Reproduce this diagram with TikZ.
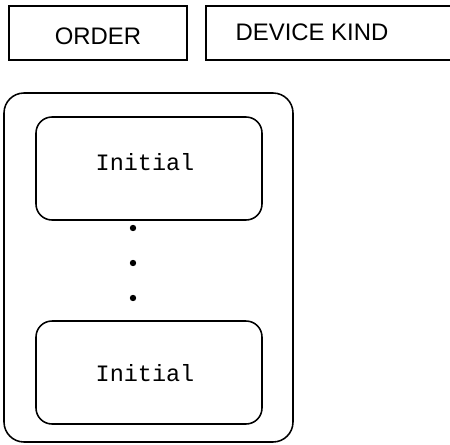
\documentclass[tikz,border=0pt]{standalone}
\usepackage{fontspec}
\setmainfont{Liberation Sans}
\setmonofont{Liberation Mono}
\usepackage{tikz}

\begin{document}
\begin{tikzpicture}[line width=1.1pt,
    tag/.style={draw,rectangle,minimum height=1.35cm},
    lbl/.style={font=\fontsize{17}{20}\selectfont},
    statelbl/.style={font=\ttfamily\fontsize{16.7}{20}\selectfont}]
      \useasboundingbox (0,0) rectangle (11.25,11.1);
      % header boxes
      \node[tag,minimum width=4.45cm] (order) at (2.45,10.275) {};
      \node[tag,minimum width=7.5cm] (kind) at (8.9,10.275) {};
      \draw (2.45,10.2) node[lbl] (ordertxt) {ORDER};
      \draw (7.8,10.3) node[lbl] (kindtxt) {DEVICE KIND};
      % container with states
      \draw[rounded corners=0.5cm] (0.1,0.05) rectangle (7.325,8.775);
      \draw[rounded corners=0.4cm] (0.9,5.6) rectangle (6.55,8.175);
      \draw[rounded corners=0.4cm] (0.9,0.5) rectangle (6.55,3.075);
      \draw (3.625,7.05) node[statelbl] (first) {Initial};
      \draw (3.625,1.775) node[statelbl] (last) {Initial};
      \fill[black] (3.325,5.4) circle (0.08);
      \fill[black] (3.325,4.525) circle (0.08);
      \fill[black] (3.325,3.65) circle (0.08);
\end{tikzpicture}
\end{document}
